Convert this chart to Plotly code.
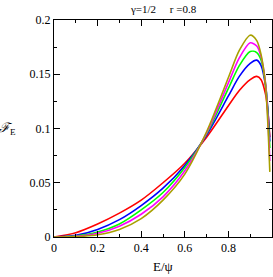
import plotly.graph_objects as go

x_vals = [0, 0.1, 0.2, 0.3, 0.4, 0.5, 0.6, 0.7, 0.8, 0.85, 0.9, 0.93, 0.95, 0.97, 0.98, 0.99]
red = [0, 0.004, 0.012, 0.022, 0.034, 0.050, 0.068, 0.092, 0.121, 0.135, 0.145, 0.148, 0.145, 0.132, 0.118, 0.092]
blue = [0, 0.0015, 0.007, 0.016, 0.029, 0.045, 0.066, 0.094, 0.130, 0.148, 0.160, 0.163, 0.158, 0.140, 0.120, 0.088]
green = [0, 0.001, 0.0046, 0.012, 0.025, 0.041, 0.064, 0.095, 0.137, 0.158, 0.171, 0.170, 0.163, 0.142, 0.118, 0.082]
magenta = [0, 0.0006, 0.0034, 0.010, 0.021, 0.037, 0.061, 0.096, 0.142, 0.165, 0.179, 0.176, 0.166, 0.142, 0.114, 0.07]
olive = [0, 0.0003, 0.002, 0.007, 0.017, 0.034, 0.058, 0.097, 0.147, 0.172, 0.186, 0.181, 0.168, 0.140, 0.108, 0.06]

series = [("red", red, "#ff0000"), ("blue", blue, "#0000ff"), ("green", green, "#00ff00"),
          ("magenta", magenta, "#ff00ff"), ("olive", olive, "#a8a000")]

x_ticks = [0, 0.2, 0.4, 0.6, 0.8, 1]
x_tick_text = ["0", "0.2", "0.4", "0.6", "0.8", "1"]
y_ticks = [0, 0.05, 0.1, 0.15, 0.2]
y_tick_text = ["0", "0.05", "0.1", "0.15", "0.2"]

fig = go.Figure()
for name, ys, col in series:
    fig.add_trace(go.Scatter(x=x_vals, y=ys, mode="lines", name=name,
                             line=dict(color=col, width=1.6, shape="spline", smoothing=0.8),
                             showlegend=False))

font = dict(family="Liberation Serif", size=12, color="black")
fig.update_layout(
    width=273, height=277,
    margin=dict(l=54, r=1, t=20, b=40),
    paper_bgcolor="white", plot_bgcolor="white",
    font=font,
    xaxis=dict(range=[0, 1], tickvals=x_ticks, ticktext=x_tick_text, ticks="inside", ticklen=6,
               tickwidth=1, tickcolor="black", showline=True, linecolor="black", linewidth=1,
               mirror="allticks", showgrid=False, zeroline=False, automargin=False,
               minor=dict(dtick=0.1, ticks="inside", ticklen=3, tickcolor="black", showgrid=False)),
    yaxis=dict(range=[0, 0.2], tickvals=y_ticks, ticktext=y_tick_text, ticks="inside", ticklen=6,
               tickwidth=1, tickcolor="black", showline=True, linecolor="black", linewidth=1,
               mirror="allticks", showgrid=False, zeroline=False, automargin=False,
               minor=dict(dtick=0.025, ticks="inside", ticklen=3, tickcolor="black", showgrid=False)),
    annotations=[
        dict(text="γ=1/2     r =0.8", x=0.5, y=1, xref="paper", yref="paper", yanchor="bottom",
             yshift=3, showarrow=False, font=dict(family="Liberation Serif", size=11)),
        dict(text="E/ψ", x=0.5, y=0, xref="paper", yref="paper", yanchor="top", yshift=-20,
             showarrow=False, font=dict(family="Liberation Serif", size=13)),
        dict(text="<i>ℱ</i><sub>E</sub>", x=0, y=0.5, xref="paper", yref="paper", xanchor="right",
             xshift=-36, showarrow=False, font=dict(family="Liberation Serif", size=13)),
    ],
)
fig.write_html("out.html", config={"displayModeBar": False},
               post_script="document.body.style.margin='0';document.body.style.overflow='hidden';")
